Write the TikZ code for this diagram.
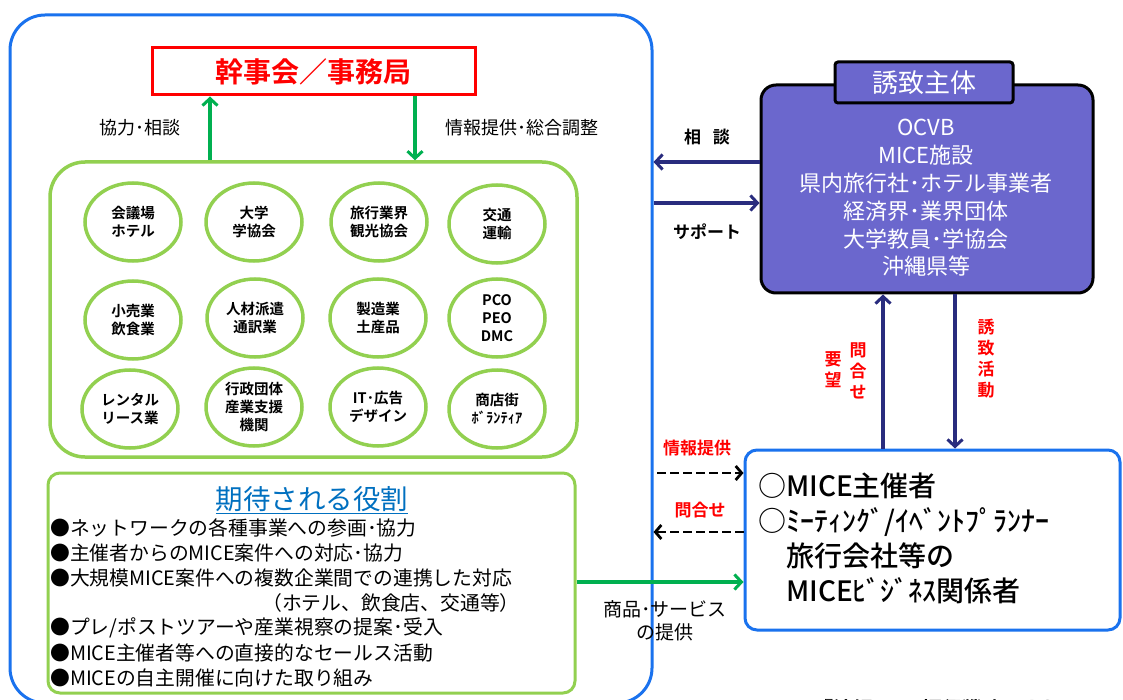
\documentclass[tikz,border=0pt]{standalone}
\usepackage{fontspec}
\setmainfont{Noto Sans CJK JP}[BoldFont={Noto Sans CJK JP Bold}]
\newfontfamily\jpmed{Noto Sans CJK JP Medium}
\usetikzlibrary{arrows.meta,shapes.geometric}
\definecolor{blueline}{HTML}{1A72EE}
\definecolor{lgreen}{HTML}{92D050}
\definecolor{dgreen}{HTML}{00B050}
\definecolor{navyc}{HTML}{292C7E}
\definecolor{purp}{HTML}{6B67CD}
\definecolor{redc}{HTML}{FF0000}
\definecolor{titleblue}{HTML}{0070C0}
\tikzset{
  circ/.style={ellipse, draw=lgreen, line width=3.5pt, minimum width=96pt, minimum height=78pt, inner sep=0pt, align=center, font=\bfseries\fontsize{14.5}{18}\selectfont},
  garrow/.style={draw=dgreen, line width=3.5pt, -{Straight Barb[length=7pt,width=15pt,line width=3pt]}},
  narrow/.style={draw=navyc, line width=3.5pt, -{Straight Barb[length=7pt,width=15pt,line width=3pt]}},
  darrow/.style={draw=black, line width=2.8pt, dash pattern=on 9pt off 4pt, -{Straight Barb[length=6pt,width=14pt,line width=2.8pt]}},
  lbl/.style={font=\fontsize{18}{20}\selectfont, inner sep=0pt},
  blbl/.style={font=\bfseries\fontsize{17}{20}\selectfont, inner sep=0pt},
  rlbl/.style={font=\bfseries\fontsize{17}{21}\selectfont, text=redc, inner sep=0pt, align=center},
  roleline/.style={anchor=west, font=\fontsize{19.8}{22}\selectfont, inner sep=0pt},
  whitetxt/.style={text=white, font=\fontsize{22}{27.8}\selectfont, align=center, inner sep=0pt},
}
\begin{document}
\begin{tikzpicture}[x=1pt,y=-1pt]
\useasboundingbox (0,0) rectangle (1123,700);
\clip (0,0) rectangle (1123,700);
\fill[white] (0,0) rectangle (1123,700);
% big network box
\node[draw=blueline, line width=3pt, rounded corners=35pt, minimum width=642pt, minimum height=688pt, inner sep=0pt] (net) at (331,359) {};
% kanjikai
\node[draw=redc, line width=3pt, minimum width=323pt, minimum height=47pt, inner sep=0pt, text=redc, font=\bfseries\fontsize{28}{32}\selectfont] (kanji) at (313.5,71.5) {幹事会／事務局};
% group container
\node[draw=lgreen, line width=3.5pt, rounded corners=35pt, minimum width=527pt, minimum height=295pt, inner sep=0pt] (grp) at (313.5,309.5) {};
\draw[garrow] (grp.north -| 210,0) -- (kanji.south -| 210,0);
\draw[garrow] (kanji.south -| 415,0) -- (grp.north -| 415,0);
\node[lbl] (l1) at (140,128) {協力･相談};
\node[lbl] (l2) at (522,128) {情報提供･総合調整};
% circles
\node[circ] (c11) at (133,222) {会議場\\ホテル};
\node[circ] (c12) at (254,222) {大学\\学協会};
\node[circ] (c13) at (379,222) {旅行業界\\観光協会};
\node[circ] (c14) at (497,224) {交通\\運輸};
\node[circ] (c21) at (133,320) {小売業\\飲食業};
\node[circ] (c22) at (255,318) {人材派遣\\通訳業};
\node[circ] (c23) at (378,318) {製造業\\土産品};
\node[circ] (c24) at (497,318) {PCO\\PEO\\DMC};
\node[circ] (c31) at (130,409) {レンタル\\リース業};
\node[circ] (c32) at (254,407) {行政団体\\産業支援\\機関};
\node[circ] (c33) at (378,407) {IT･広告\\デザイン};
\node[circ] (c34) at (497,409) {商店街\\ﾎﾞﾗﾝﾃｨｱ};
% roles box
\node[draw=lgreen, line width=3pt, rounded corners=12pt, minimum width=527pt, minimum height=220pt, inner sep=0pt] (roles) at (311.5,583) {};
\node[inner sep=0pt, text=titleblue, font=\fontsize{27.5}{30}\selectfont] (rt) at (312,500) {\underline{期待される役割}};
\node[roleline] (r1) at (50,528) {●ネットワークの各種事業への参画･協力};
\node[roleline] (r2) at (50,553) {●主催者からのMICE案件への対応･協力};
\node[roleline] (r3) at (50,578) {●大規模MICE案件への複数企業間での連携した対応};
\node[roleline] (r4) at (262,603) {（ホテル、飲食店、交通等）};
\node[roleline] (r5) at (50,628) {●プレ/ポストツアーや産業視察の提案･受入};
\node[roleline] (r6) at (50,653) {●MICE主催者等への直接的なセールス活動};
\node[roleline] (r7) at (50,678) {●MICEの自主開催に向けた取り組み};
% yuchi shutai
\node[draw=black, fill=purp, line width=3pt, rounded corners=15pt, minimum width=332pt, minimum height=208pt, inner sep=0pt] (yuchi) at (927,189) {};
\node[draw=black, fill=purp, line width=3pt, rounded corners=3pt, minimum width=178pt, minimum height=41pt, inner sep=0pt, text=white, font=\fontsize{26}{30}\selectfont] (ytab) at (924,82.5) {誘致主体};
\node[whitetxt] (ytxt) at (926,198) {OCVB\\MICE施設\\県内旅行社･ホテル事業者\\経済界･業界団体\\大学教員･学協会\\沖縄県等};
\draw[narrow] (yuchi.west |- 0,162) -- (net.east |- 0,162);
\draw[narrow] (net.east |- 0,203) -- (yuchi.west |- 0,203);
\node[blbl] (l3) at (707,137) {相\hspace{12pt}談};
\node[blbl] (l4) at (707,232) {サポート};
% MICE box
\node[draw=blueline, line width=3pt, rounded corners=12pt, minimum width=375pt, minimum height=180pt, inner sep=0pt] (mice) at (932.5,540) {};
\node[anchor=north west, inner sep=0pt, align=left, font=\jpmed\fontsize{28}{35}\selectfont] (mtxt) at (758,473) {○MICE主催者\\○ﾐｰﾃｨﾝｸﾞ/ｲﾍﾞﾝﾄﾌﾟﾗﾝﾅｰ\\\phantom{○}旅行会社等の\\\phantom{○}MICEﾋﾞｼﾞﾈｽ関係者};
\draw[narrow] (mice.north -| 883,0) -- (yuchi.south -| 883,0);
\draw[narrow] (yuchi.south -| 955,0) -- (mice.north -| 955,0);
\node[rlbl] (l5) at (858,371) {問\\合\\せ};
\node[rlbl] (l6) at (833,370) {要\\望};
\node[rlbl] (l7) at (986,359) {誘\\致\\活\\動};
\coordinate (ds) at (657,473);
\draw[darrow] (ds) -- (mice.west |- ds);
\draw[darrow] (mice.west |- 0,532) -- (net.east |- 0,532);
\node[rlbl] (l8) at (697,448) {情報提供};
\node[rlbl] (l9) at (700,510) {問合せ};
\draw[garrow] (roles.east |- 0,582) -- (mice.west |- 0,582);
\node[lbl, align=center, font=\fontsize{19}{23}\selectfont] (l10) at (665,621) {商品･サービス\\の提供};
% source (cut off at bottom, as in the reference)
\node[inner sep=0pt, font=\bfseries\fontsize{20}{24}\selectfont] (src) at (938,709) {『沖縄MICE振興戦略』より};
\end{tikzpicture}
\end{document}
